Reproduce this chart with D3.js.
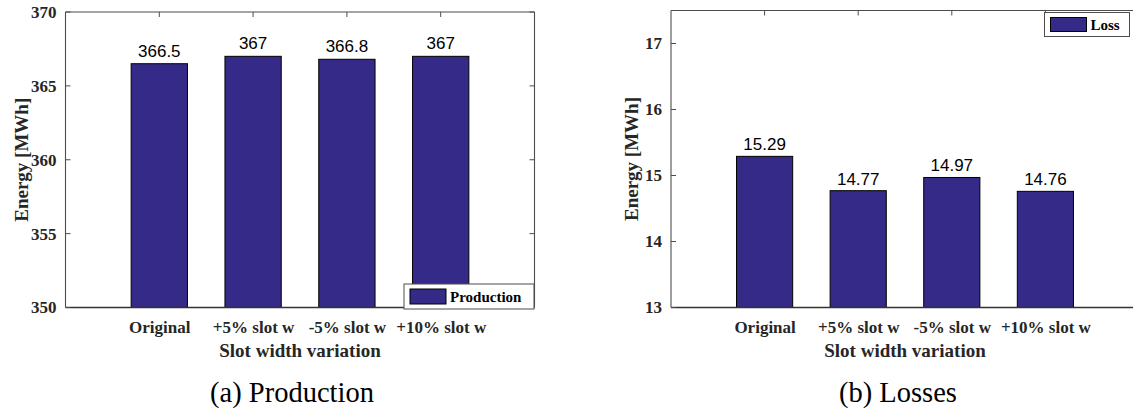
<!DOCTYPE html>
<html>
<head>
<meta charset="utf-8">
<script src="https://cdn.jsdelivr.net/npm/d3@7/dist/d3.min.js"></script>
<style>
  html, body { margin: 0; padding: 0; background: #fff; }
  svg { display: block; }
  svg text.serif { font-family: "Liberation Serif", "Times New Roman", Times, serif; }
  svg text.sans { font-family: "Liberation Sans", Arial, Helvetica, sans-serif; }
</style>
</head>
<body>
<svg id="chart" width="1133" height="410"></svg>
<script>
// ---- Data ----
const categories = ["Original", "+5% slot w", "-5% slot w", "+10% slot w"];
const productionValues = [366.5, 367, 366.8, 367];
const lossValues = [15.29, 14.77, 14.97, 14.76];
const productionTicks = [350, 355, 360, 365, 370];
const lossTicks = [13, 14, 15, 16, 17];
const productionDomain = [350, 370];
const lossDomain = [13, 17.5];
const productionLabels = ["366.5", "367", "366.8", "367"];
const lossLabels = ["15.29", "14.77", "14.97", "14.76"];

const svg = d3.select("#chart");
const BAR = "#352a87";
const AXIS = "#4d4d4d";

function panel(cfg) {
  const g = svg.append("g");
  const x = d3.scaleLinear().domain([0, categories.length + 1]).range([cfg.left, cfg.right]);
  const y = d3.scaleLinear().domain(cfg.domain).range([cfg.bottom, cfg.top]);
  const bw = x(0.6) - x(0);

  // bars
  g.selectAll("rect.bar").data(cfg.values).join("rect")
    .attr("class", "bar")
    .attr("x", (d, i) => x(i + 1) - bw / 2)
    .attr("y", d => y(d))
    .attr("width", bw)
    .attr("height", d => y(cfg.domain[0]) - y(d))
    .attr("fill", BAR)
    .attr("stroke", "#000")
    .attr("stroke-width", 1);

  // box
  const clipRight = Math.min(cfg.right, 1140);
  g.append("line").attr("x1", cfg.left).attr("x2", clipRight).attr("y1", cfg.top).attr("y2", cfg.top)
    .attr("stroke", AXIS).attr("stroke-width", 1.1);
  g.append("line").attr("x1", cfg.left).attr("x2", clipRight).attr("y1", cfg.bottom).attr("y2", cfg.bottom)
    .attr("stroke", "#333").attr("stroke-width", 1.4);
  g.append("line").attr("x1", cfg.left).attr("x2", cfg.left).attr("y1", cfg.top).attr("y2", cfg.bottom)
    .attr("stroke", AXIS).attr("stroke-width", 1.1);
  g.append("line").attr("x1", cfg.right).attr("x2", cfg.right).attr("y1", cfg.top).attr("y2", cfg.bottom)
    .attr("stroke", AXIS).attr("stroke-width", 1.1);

  // y axis (ticks inside, labels outside)
  const yAxis = d3.axisLeft(y).tickValues(cfg.ticks).tickSize(0).tickPadding(9)
    .tickFormat(d3.format("d"));
  const ya = g.append("g").attr("transform", `translate(${cfg.left},0)`).call(yAxis);
  ya.attr("font-family", null).attr("font-size", null);
  ya.select(".domain").remove();
  ya.selectAll("text").attr("class", "serif").attr("font-weight", "bold")
    .attr("font-size", "17px").attr("fill", "#262626");
  // inner tick marks left & right
  g.selectAll("line.ytl").data(cfg.ticks).join("line").attr("class", "ytl")
    .attr("x1", cfg.left).attr("x2", cfg.left + 5).attr("y1", d => y(d)).attr("y2", d => y(d))
    .attr("stroke", AXIS);
  g.selectAll("line.ytr").data(cfg.ticks).join("line").attr("class", "ytr")
    .attr("x1", cfg.right).attr("x2", cfg.right - 5).attr("y1", d => y(d)).attr("y2", d => y(d))
    .attr("stroke", AXIS);
  // top ticks
  g.selectAll("line.xtt").data(categories).join("line").attr("class", "xtt")
    .attr("x1", (d, i) => x(i + 1)).attr("x2", (d, i) => x(i + 1))
    .attr("y1", cfg.top).attr("y2", cfg.top + 5).attr("stroke", AXIS);

  // x axis labels
  const xAxis = d3.axisBottom(x).tickValues(categories.map((d, i) => i + 1)).tickSize(0).tickPadding(13)
    .tickFormat((d) => categories[d - 1]);
  const xa = g.append("g").attr("transform", `translate(0,${cfg.bottom})`).call(xAxis);
  xa.attr("font-family", null).attr("font-size", null);
  xa.select(".domain").remove();
  xa.selectAll("text").attr("class", "serif").attr("font-weight", "bold")
    .attr("font-size", "17px").attr("fill", "#262626");

  // value labels
  g.selectAll("text.val").data(cfg.values).join("text").attr("class", "sans")
    .attr("x", (d, i) => x(i + 1))
    .attr("y", d => y(d) - cfg.valGap)
    .attr("text-anchor", "middle")
    .attr("font-size", "17px").attr("fill", "#000")
    .text((d, i) => cfg.labels[i]);

  // axis titles
  g.append("text").attr("class", "serif").attr("x", x(2.5)).attr("y", 357)
    .attr("text-anchor", "middle").attr("font-weight", "bold")
    .attr("font-size", "19px").attr("fill", "#262626").text("Slot width variation");
  g.append("text").attr("class", "serif")
    .attr("transform", `translate(${cfg.ylabelX},${(cfg.top + cfg.bottom) / 2}) rotate(-90)`)
    .attr("text-anchor", "middle").attr("dominant-baseline", "central")
    .attr("font-weight", "bold")
    .attr("font-size", "19px").attr("fill", "#262626").text("Energy [MWh]");

  // legend
  const L = cfg.legend;
  g.append("rect").attr("x", L.x).attr("y", L.y).attr("width", L.w).attr("height", L.h)
    .attr("fill", "#fff").attr("stroke", AXIS).attr("stroke-width", 1);
  g.append("rect").attr("x", L.x + 6).attr("y", L.y + 5).attr("width", 36).attr("height", L.h - 10)
    .attr("fill", BAR).attr("stroke", "#000").attr("stroke-width", 1);
  g.append("text").attr("class", "serif").attr("x", L.x + 46).attr("y", L.y + L.h / 2 + 5)
    .attr("font-weight", "bold").attr("font-size", "15px")
    .attr("fill", "#000").text(L.label);

  // caption
  g.append("text").attr("class", "serif").attr("x", cfg.captionX).attr("y", 402)
    .attr("text-anchor", "middle").attr("font-size", "28.5px")
    .attr("fill", "#000").text(cfg.caption);
}

panel({
  left: 65.5, right: 534.5, top: 12, bottom: 307.5,
  domain: productionDomain, ticks: productionTicks, values: productionValues, labels: productionLabels,
  valGap: 7, ylabelX: 21,
  legend: { x: 404, y: 284, w: 130, h: 25, label: "Production" },
  caption: "(a) Production", captionX: 292
});

panel({
  left: 671, right: 1139, top: 10.5, bottom: 307.5,
  domain: lossDomain, ticks: lossTicks, values: lossValues, labels: lossLabels,
  valGap: 6, ylabelX: 631,
  legend: { x: 1044.5, y: 12.5, w: 85, h: 24, label: "Loss" },
  caption: "(b) Losses", captionX: 898
});
</script>
</body>
</html>
